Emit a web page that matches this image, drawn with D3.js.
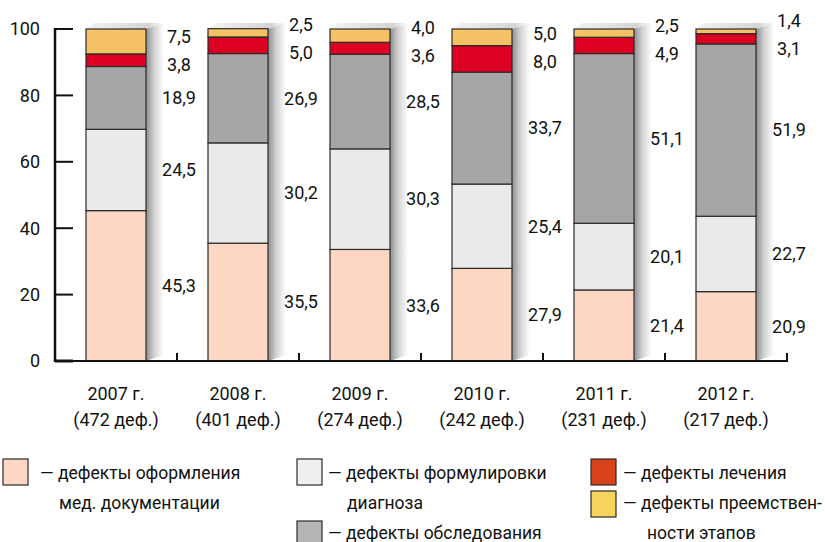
<!DOCTYPE html>
<html>
<head>
<meta charset="utf-8">
<script src="https://cdn.jsdelivr.net/npm/d3@7/dist/d3.min.js"></script>
<style>
  html, body { margin: 0; padding: 0; background: #fff; }
  svg { display: block; font-family: Roboto, "Noto Sans", "DejaVu Sans", sans-serif; }
  text { fill: #111; }
</style>
</head>
<body>
<svg id="chart" width="825" height="542"></svg>
<script>
// Structure of defects by year, % of all defects found
const years = ["2007 г.", "2008 г.", "2009 г.", "2010 г.", "2011 г.", "2012 г."];
const totals = ["(472 деф.)", "(401 деф.)", "(274 деф.)", "(242 деф.)", "(231 деф.)", "(217 деф.)"];

const documentation = [45.3, 35.5, 33.6, 27.9, 21.4, 20.9];
const diagnosis     = [24.5, 30.2, 30.3, 25.4, 20.1, 22.7];
const examination   = [18.9, 26.9, 28.5, 33.7, 51.1, 51.9];
const treatment     = [3.8, 5.0, 3.6, 8.0, 4.9, 3.1];
const continuity    = [7.5, 2.5, 4.0, 5.0, 2.5, 1.4];

const yTicks = [0, 20, 40, 60, 80, 100];

const seriesKeys   = ["documentation", "diagnosis", "examination", "treatment", "continuity"];
const barColors    = ["#fcd8c4", "#eaeaea", "#a6a6a6", "#dc0023", "#f5c266"];
const legendColors = ["#fcd8c4", "#efefef", "#b5b5b5", "#d9431c", "#f8d35c"];

const table = years.map((y, i) => ({
  year: y,
  documentation: documentation[i],
  diagnosis: diagnosis[i],
  examination: examination[i],
  treatment: treatment[i],
  continuity: continuity[i]
}));

const svg = d3.select("#chart");
const fmt = v => d3.format(".1f")(v).replace(".", ",");
const FS = 18;
const LEGEND_FS = 17.5;

const x = d3.scaleBand().domain(years).range([55, 787]).padding(0);
const y = d3.scaleLinear().domain([0, 100]).range([361, 29]);
const barW = 60;
const barX = d => x(d) + (x.bandwidth() - barW) / 2;

const stacked = d3.stack().keys(seriesKeys)(table);

// gradients for the bar shadows
const defs = svg.append("defs");
const sideGrad = defs.append("linearGradient").attr("id", "side").attr("x1", 0).attr("x2", 1).attr("y1", 0).attr("y2", 0);
sideGrad.append("stop").attr("offset", 0).attr("stop-color", "#8e8e8e");
sideGrad.append("stop").attr("offset", 0.45).attr("stop-color", "#d2d2d2");
sideGrad.append("stop").attr("offset", 1).attr("stop-color", "#ffffff");
const topGrad = defs.append("linearGradient").attr("id", "topface").attr("x1", 0).attr("x2", 1).attr("y1", 0).attr("y2", 0);
topGrad.append("stop").attr("offset", 0).attr("stop-color", "#f4f4f4");
topGrad.append("stop").attr("offset", 0.8).attr("stop-color", "#d4d4d4");
topGrad.append("stop").attr("offset", 1).attr("stop-color", "#ffffff");

// shadows behind each bar
const dx = 18, dy = 6;
const shadows = svg.append("g");
years.forEach(yr => {
  const x0 = barX(yr), x1 = x0 + barW, top = y(100), bot = y(0);
  shadows.append("path")
    .attr("d", `M${x0},${top} L${x0 + dx * 0.45},${top - dy} L${x1 + dx},${top - dy} L${x1},${top} Z`)
    .attr("fill", "url(#topface)");
  shadows.append("path")
    .attr("d", `M${x1},${top} L${x1 + dx},${top - dy} L${x1 + dx},${bot - dy} L${x1},${bot} Z`)
    .attr("fill", "url(#side)");
});

// stacked bars
svg.append("g").selectAll("g")
  .data(stacked)
  .join("g")
  .attr("fill", (d, i) => barColors[i])
  .selectAll("rect")
  .data(d => d)
  .join("rect")
  .attr("x", d => barX(d.data.year))
  .attr("width", barW)
  .attr("y", d => y(d[1]))
  .attr("height", d => y(d[0]) - y(d[1]))
  .attr("stroke", "#2b2b2b")
  .attr("stroke-width", 1.2);

// y axis
const yAxis = svg.append("g");
yAxis.append("line").attr("x1", 55).attr("x2", 55).attr("y1", y(100) - 1).attr("y2", y(0) + 1)
  .attr("stroke", "#111").attr("stroke-width", 2.5);
yAxis.selectAll(".tick").data(yTicks).join("line")
  .attr("x1", 55).attr("x2", 73).attr("y1", d => y(d)).attr("y2", d => y(d))
  .attr("stroke", "#111").attr("stroke-width", d => d === 0 ? 3 : 2);
yAxis.selectAll("text").data(yTicks).join("text")
  .attr("x", 40).attr("y", d => y(d)).attr("dy", "0.35em")
  .attr("text-anchor", "end").attr("font-size", FS)
  .text(d => d);

// x baseline with ticks at category boundaries
const xAxis = svg.append("g");
xAxis.append("line").attr("x1", 55).attr("x2", 788).attr("y1", y(0)).attr("y2", y(0))
  .attr("stroke", "#111").attr("stroke-width", 2);
xAxis.selectAll("line.t").data(years).join("line").attr("class", "t")
  .attr("x1", d => x(d) + x.bandwidth()).attr("x2", d => x(d) + x.bandwidth())
  .attr("y1", y(0)).attr("y2", y(0) - 8)
  .attr("stroke", "#111").attr("stroke-width", 2);
xAxis.selectAll("text.yr").data(years).join("text").attr("class", "yr")
  .attr("x", d => x(d) + x.bandwidth() / 2).attr("y", 400)
  .attr("text-anchor", "middle").attr("font-size", FS).text(d => d);
xAxis.selectAll("text.tot").data(years).join("text").attr("class", "tot")
  .attr("x", d => x(d) + x.bandwidth() / 2).attr("y", 426)
  .attr("text-anchor", "middle").attr("font-size", FS).text((d, i) => totals[i]);

// value labels, spread apart where the small segments crowd together
const minGap = 28;
years.forEach((yr, i) => {
  const labels = stacked.map(s => ({ v: s[i][1] - s[i][0], pos: y((s[i][0] + s[i][1]) / 2) }));
  for (let iter = 0; iter < 50; iter++) {
    labels.sort((a, b) => b.pos - a.pos);
    for (let k = 1; k < labels.length; k++) {
      const lo = labels[k - 1], hi = labels[k];
      const gap = lo.pos - hi.pos;
      if (gap < minGap) {
        const push = (minGap - gap) / 2;
        lo.pos += push; hi.pos -= push;
      }
    }
  }
  svg.append("g").selectAll("text").data(labels).join("text")
    .attr("x", x(yr) + x.bandwidth() + 2).attr("y", d => d.pos).attr("dy", "0.35em")
    .attr("text-anchor", "middle").attr("font-size", FS)
    .text(d => fmt(d.v));
});

// legend: swatch plus one or two text lines (baselines 31px apart)
const legendItems = [
  { key: 0, sx: 3,   sy: 459, base: 479, lines: [["— дефекты оформления", 40], ["мед. документации", 59]] },
  { key: 1, sx: 297, sy: 459, base: 479, lines: [["— дефекты формулировки", 328], ["диагноза", 347]] },
  { key: 2, sx: 297, sy: 521, base: 539, lines: [["— дефекты обследования", 328]] },
  { key: 3, sx: 591, sy: 459, base: 479, lines: [["— дефекты лечения", 623]] },
  { key: 4, sx: 591, sy: 491, base: 509, lines: [["— дефекты преемствен-", 623], ["ности этапов", 647]] }
];
const legend = svg.append("g");
legendItems.forEach(it => {
  legend.append("rect").attr("x", it.sx).attr("y", it.sy).attr("width", 25).attr("height", 26)
    .attr("fill", legendColors[it.key]).attr("stroke", "#2b2b2b").attr("stroke-width", 1.2);
  it.lines.forEach((ln, j) => {
    legend.append("text").attr("x", ln[1]).attr("y", it.base + j * 30)
      .attr("font-size", LEGEND_FS).text(ln[0]);
  });
});
</script>
</body>
</html>
